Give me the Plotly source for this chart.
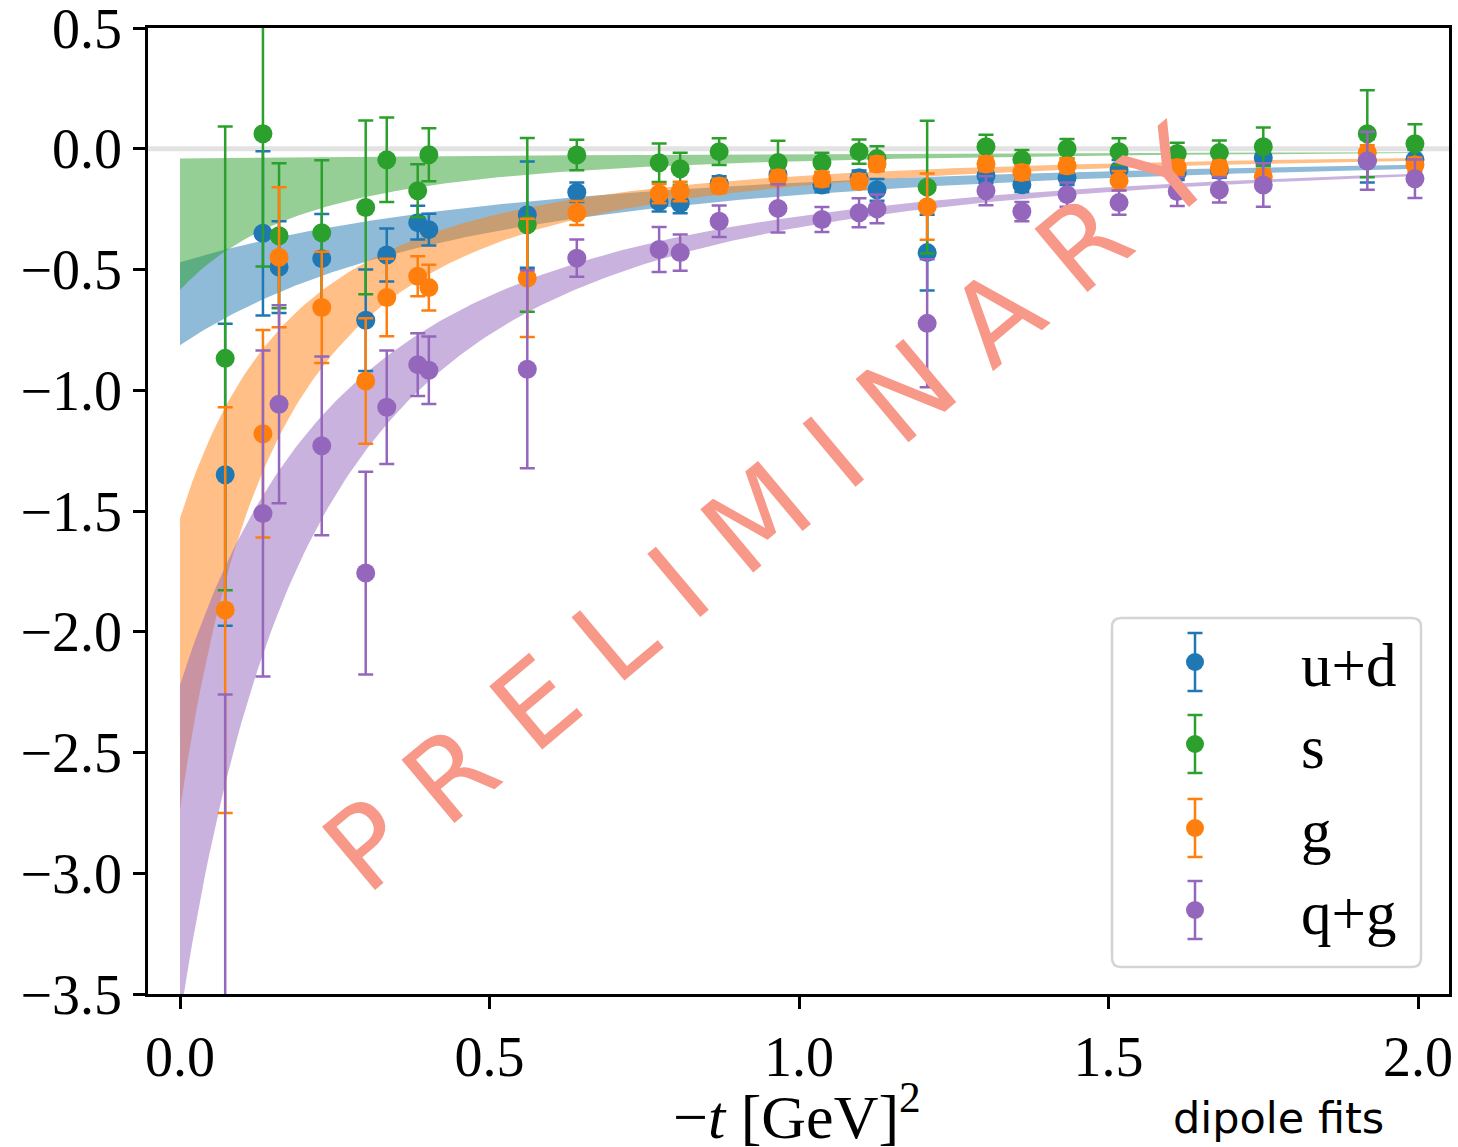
import numpy as np
import plotly.graph_objects as go

# ---------------- data ----------------
t = [0.073, 0.134, 0.160, 0.229, 0.300, 0.334, 0.384, 0.402, 0.561, 0.641,
     0.774, 0.808, 0.871, 0.966, 1.037, 1.097, 1.126, 1.207, 1.302, 1.360,
     1.433, 1.517, 1.611, 1.679, 1.750, 1.918, 1.995]

ud = [-1.35, -0.35, -0.49, -0.455, -0.71, -0.44, -0.306, -0.335, -0.273, -0.18,
      -0.22, -0.227, -0.144, -0.107, -0.15, -0.12, -0.17, -0.43, -0.112, -0.149,
      -0.12, -0.087, -0.099, -0.09, -0.037, -0.05, -0.045]
ud_err = [0.625, 0.34, 0.19, 0.185, 0.21, 0.11, 0.07, 0.066, 0.22, 0.04,
          0.04, 0.04, 0.03, 0.03, 0.03, 0.03, 0.045, 0.157, 0.03, 0.03,
          0.03, 0.04, 0.03, 0.03, 0.03, 0.09, 0.04]

s = [-0.868, 0.062, -0.36, -0.348, -0.243, -0.046, -0.174, -0.025, -0.315, -0.026,
     -0.058, -0.083, -0.012, -0.057, -0.057, -0.012, -0.04, -0.159, 0.008, -0.045,
     0.0, -0.012, -0.02, -0.016, 0.008, 0.062, 0.021]
s_err = [0.96, 0.55, 0.30, 0.30, 0.36, 0.175, 0.11, 0.11, 0.36, 0.063,
         0.08, 0.066, 0.055, 0.09, 0.04, 0.05, 0.05, 0.275, 0.05, 0.04,
         0.04, 0.055, 0.045, 0.05, 0.08, 0.18, 0.08]

g = [-1.91, -1.18, -0.449, -0.657, -0.962, -0.616, -0.528, -0.575, -0.535, -0.266,
     -0.186, -0.177, -0.154, -0.12, -0.125, -0.136, -0.063, -0.24, -0.063, -0.098,
     -0.07, -0.132, -0.078, -0.08, -0.116, -0.016, -0.066]
g_err = [0.84, 0.43, 0.29, 0.23, 0.26, 0.16, 0.083, 0.095, 0.245, 0.05,
         0.04, 0.04, 0.03, 0.03, 0.03, 0.03, 0.03, 0.137, 0.03, 0.03,
         0.03, 0.04, 0.03, 0.03, 0.03, 0.03, 0.03]

qg = [-4.13, -1.51, -1.058, -1.23, -1.757, -1.07, -0.894, -0.917, -0.913, -0.453,
      -0.417, -0.43, -0.30, -0.247, -0.293, -0.265, -0.249, -0.723, -0.174, -0.26,
      -0.19, -0.223, -0.177, -0.17, -0.15, -0.05, -0.124]
qg_err = [1.87, 0.675, 0.41, 0.37, 0.42, 0.235, 0.13, 0.14, 0.41, 0.077,
          0.093, 0.075, 0.065, 0.1, 0.052, 0.06, 0.06, 0.265, 0.06, 0.04,
          0.05, 0.05, 0.06, 0.053, 0.09, 0.12, 0.08]

# dipole fit band edges  A / (1 + t/M^2)^2 : (A, M^2) for the two edges
fit_ud = [(-0.47, 1.2), (-0.814, 0.94)]
fit_s = [(-0.04, 3.0), (-0.585, 0.42)]
fit_g = [(-1.53, 0.373), (-2.74, 0.31)]
fit_qg = [(-2.22, 0.55), (-3.6, 0.43)]

labels = ["u+d", "s", "g", "q+g"]
x_ticks = [0.0, 0.5, 1.0, 1.5, 2.0]
x_ticktext = ["0.0", "0.5", "1.0", "1.5", "2.0"]
y_ticks = [-3.5, -3.0, -2.5, -2.0, -1.5, -1.0, -0.5, 0.0, 0.5]
y_ticktext = ["\u22123.5", "\u22123.0", "\u22122.5", "\u22122.0", "\u22121.5",
              "\u22121.0", "\u22120.5", "0.0", "0.5"]

# ---------------- styles ----------------
C_BLUE = "#1f77b4"
C_GREEN = "#2ca02c"
C_ORANGE = "#ff7f0e"
C_PURPLE = "#9467bd"

def rgba(hexc, a):
    h = hexc.lstrip("#")
    return "rgba(%d,%d,%d,%s)" % (int(h[0:2], 16), int(h[2:4], 16), int(h[4:6], 16), a)

def dipole(tt, A, m2):
    return A / (1.0 + tt / m2) ** 2

fig = go.Figure()

tt = np.linspace(0.0, 2.0, 301)
for fit, col in [(fit_ud, C_BLUE), (fit_s, C_GREEN), (fit_g, C_ORANGE), (fit_qg, C_PURPLE)]:
    e1 = dipole(tt, *fit[0])
    e2 = dipole(tt, *fit[1])
    hi = np.maximum(e1, e2)
    lo = np.minimum(e1, e2)
    fig.add_trace(go.Scatter(
        x=np.concatenate([tt, tt[::-1]]), y=np.concatenate([hi, lo[::-1]]),
        fill="toself", fillcolor=rgba(col, 0.5), mode="lines",
        line=dict(width=0, color=rgba(col, 0)), hoverinfo="skip", showlegend=False))

for vals, errs, col, name in [(ud, ud_err, C_BLUE, labels[0]), (s, s_err, C_GREEN, labels[1]),
                              (g, g_err, C_ORANGE, labels[2]), (qg, qg_err, C_PURPLE, labels[3])]:
    fig.add_trace(go.Scatter(
        x=t, y=vals, mode="markers", name=name,
        marker=dict(color=col, size=19),
        error_y=dict(type="data", array=errs, visible=True, color=col,
                     thickness=2.5, width=7.5),
        showlegend=False))

# ---------------- layout helpers (pixel -> paper) ----------------
L, R, T, B = 148, 1449, 28, 994
def px(p):
    return (p - L) / (R - L)
def py(p):
    return (B - p) / (B - T)

shapes = []
# light reference line at zero
shapes.append(dict(type="line", xref="paper", yref="y", x0=0, x1=1, y0=0, y1=0,
                   line=dict(color="#e3e3e3", width=5), layer="below"))

# legend box (rounded)
bx0, bx1, by0, by1, rr = 1112, 1421, 618, 967, 9
path = ("M {a},{b} L {c},{b} Q {x1},{b} {x1},{d} L {x1},{e} Q {x1},{y1} {c},{y1} "
        "L {a},{y1} Q {x0},{y1} {x0},{e} L {x0},{d} Q {x0},{b} {a},{b} Z").format(
    a=px(bx0 + rr), c=px(bx1 - rr), b=py(by0), d=py(by0 + rr), e=py(by1 - rr),
    x0=px(bx0), x1=px(bx1), y1=py(by1))
shapes.append(dict(type="path", xref="paper", yref="paper", path=path,
                   fillcolor="white", line=dict(color="#d4d4d4", width=2.5)))

annotations = []
leg_y = [662, 744, 828, 910]
ix = 1195
for yy, col, name in zip(leg_y, [C_BLUE, C_GREEN, C_ORANGE, C_PURPLE], labels):
    shapes.append(dict(type="line", xref="paper", yref="paper", x0=px(ix), x1=px(ix),
                       y0=py(yy - 29), y1=py(yy + 29), line=dict(color=col, width=2.5)))
    for cy in (yy - 29, yy + 29):
        shapes.append(dict(type="line", xref="paper", yref="paper", x0=px(ix - 7.5),
                           x1=px(ix + 7.5), y0=py(cy), y1=py(cy), line=dict(color=col, width=2.5)))
    shapes.append(dict(type="circle", xref="paper", yref="paper", x0=px(ix - 9),
                       x1=px(ix + 9), y0=py(yy - 9), y1=py(yy + 9),
                       fillcolor=col, line=dict(width=0)))
    annotations.append(dict(text=name, xref="paper", yref="paper", x=px(1299), y=py(yy + 3),
                            xanchor="left", yanchor="middle", showarrow=False,
                            font=dict(family="Liberation Serif", size=61, color="black")))

# axis label
annotations.append(dict(text="\u2212<i>t</i> [GeV]<sup>2</sup>", xref="paper", yref="paper",
                        x=px(797), y=py(1112), xanchor="center", yanchor="middle",
                        showarrow=False,
                        font=dict(family="Liberation Serif", size=62, color="black")))
annotations.append(dict(text="dipole fits", xref="paper", yref="paper",
                        x=px(1278), y=py(1118), xanchor="center", yanchor="middle",
                        showarrow=False,
                        font=dict(family="DejaVu Sans", size=43, color="black")))
# watermark
annotations.append(dict(text="P R E L I M I N A R Y", xref="paper", yref="paper",
                        x=px(768), y=py(509), xanchor="center", yanchor="middle",
                        showarrow=False, textangle=-40,
                        font=dict(family="DejaVu Sans", size=113, color="rgb(247,152,136)")))

axis_common = dict(showline=True, linewidth=2.5, linecolor="black", mirror=True,
                   ticks="outside", ticklen=12, tickwidth=2.5, tickcolor="black",
                   showgrid=False, zeroline=False, ticklabeloverflow="allow",
                   automargin=False,
                   tickfont=dict(family="Liberation Serif", size=56, color="black"))

fig.update_layout(
    width=1458, height=1147,
    margin=dict(l=L, r=1458 - R, t=T, b=1147 - B, pad=0, autoexpand=False),
    paper_bgcolor="white", plot_bgcolor="white",
    xaxis=dict(range=[-0.0517, 2.050], tickvals=x_ticks, ticktext=x_ticktext, **axis_common),
    yaxis=dict(range=[-3.5, 0.5], tickvals=y_ticks, ticktext=y_ticktext, **axis_common),
    shapes=shapes, annotations=annotations, showlegend=False,
)

fig.write_html("out.html")
